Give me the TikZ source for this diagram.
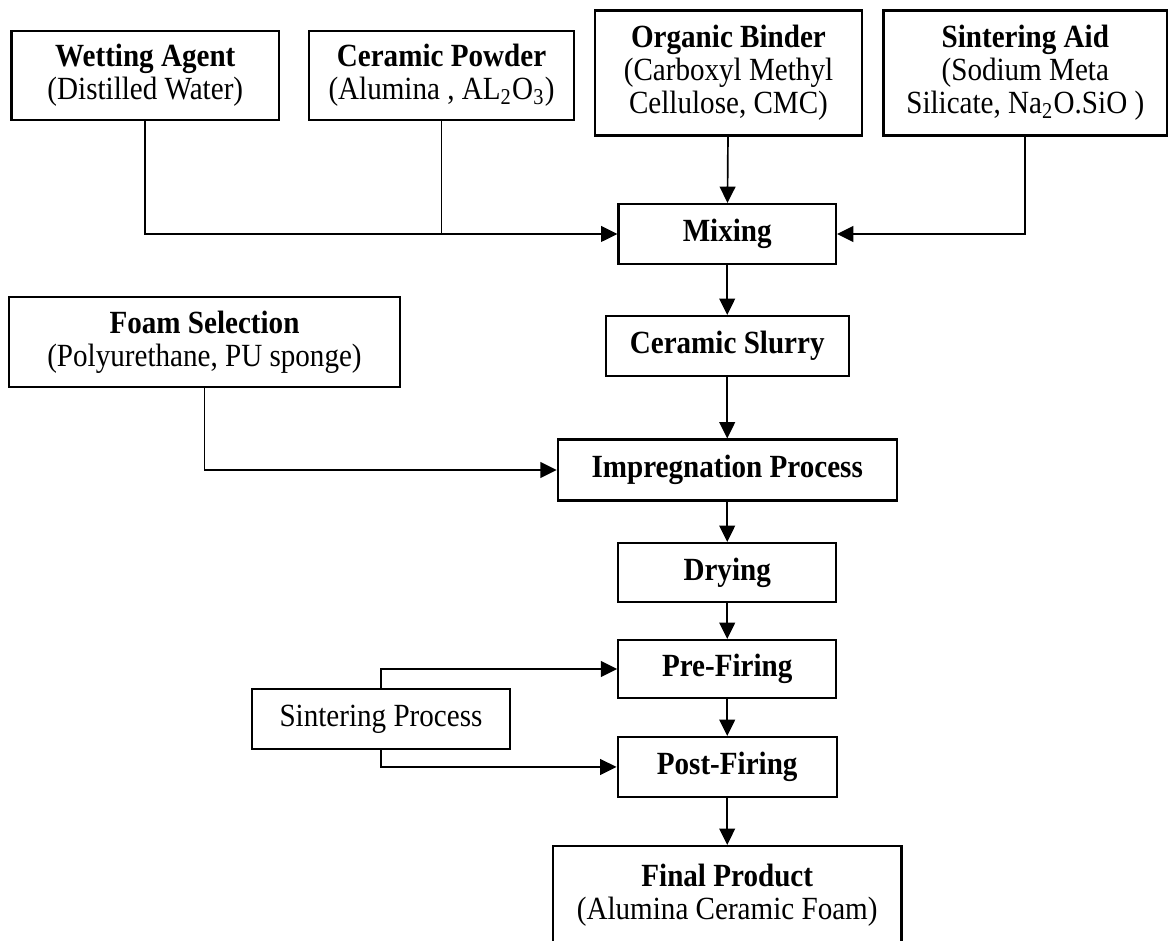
\documentclass[tikz,border=0pt]{standalone}
\usepackage{fontspec}
\setmainfont{Liberation Serif}[FakeStretch=0.9]
\usetikzlibrary{arrows.meta}

\begin{document}
\begin{tikzpicture}
    [
    box/.style={
        rectangle,
        draw=black,
        line width=0.75pt,
        inner sep=2pt,
        align=center,
        font=\fontsize{11.5pt}{11.8pt}\selectfont
    },
    line/.style={line width=0.6pt},
    arrow/.style={line, -{Triangle[length=5.8pt,width=5.6pt]}}
    ]

    \useasboundingbox (0,0) rectangle (14.6125,11.7625);

% Raw materials
    \node[box, minimum width=3.344cm, minimum height=1.1125cm] (wet) at (1.816,10.819)
        {\textbf{Wetting Agent}\\(Distilled Water)};
    \node[box, minimum width=3.3125cm, minimum height=1.1125cm] (powder) at (5.519,10.819)
        {\textbf{Ceramic Powder}\\(Alumina , AL\textsubscript{2}O\textsubscript{3})};
    \node[box, minimum width=3.3375cm, minimum height=1.5625cm] (binder) at (9.106,10.85)
        {\textbf{Organic Binder}\\(Carboxyl Methyl\\Cellulose, CMC)};
    \node[box, minimum width=3.544cm, minimum height=1.5625cm] (aid) at (12.816,10.85)
        {\textbf{Sintering Aid}\\(Sodium Meta\\Silicate, Na\textsubscript{2}O.SiO )};

% Main process
    \node[box, minimum width=2.719cm, minimum height=0.75cm] (mix) at (9.09,8.8375) {\textbf{Mixing}};
    \node[box, minimum width=3.0375cm, minimum height=0.75cm] (slurry) at (9.09,7.4375) {\textbf{Ceramic Slurry}};
    \node[box, minimum width=4.8875cm, minimum height=1.125cm] (foam) at (2.556,7.4875)
        {\textbf{Foam Selection}\\(Polyurethane, PU sponge)};
    \node[box, minimum width=4.2375cm, minimum height=0.7625cm] (impreg) at (9.09,5.8875) {\textbf{Impregnation Process}};
    \node[box, minimum width=2.725cm, minimum height=0.7375cm] (dry) at (9.09,4.6063) {\textbf{Drying}};
    \node[box, minimum width=2.725cm, minimum height=0.725cm] (pre) at (9.09,3.4) {\textbf{Pre-Firing}};
    \node[box, minimum width=2.74cm, minimum height=0.75cm] (post) at (9.09,2.175) {\textbf{Post-Firing}};
    \node[box, minimum width=3.225cm, minimum height=0.75cm] (sinter) at (4.7625,2.775) {Sintering Process};
    \node[box, minimum width=4.356cm, minimum height=1.2375cm] (final) at (9.09,0.569)
        {\textbf{Final Product}\\(Alumina Ceramic Foam)};

% Feeds into mixing
    \draw[arrow] (wet.south) |- (mix.west);
    \draw[line] (powder.south) -- (powder.south |- mix.west);
    \draw[arrow] (binder) -- (mix);
    \draw[arrow] (aid.south) |- (mix.east);

% Process flow
    \draw[arrow] (mix) -- (slurry);
    \draw[arrow] (slurry) -- (impreg);
    \draw[arrow] (foam.south) |- (impreg.west);
    \draw[arrow] (impreg) -- (dry);
    \draw[arrow] (dry) -- (pre);
    \draw[arrow] (pre) -- (post);
    \draw[arrow] (post) -- (final);

% Sintering
    \draw[arrow] (sinter.north) |- (pre.west);
    \draw[arrow] (sinter.south) |- (post.west);

\end{tikzpicture}
\end{document}
